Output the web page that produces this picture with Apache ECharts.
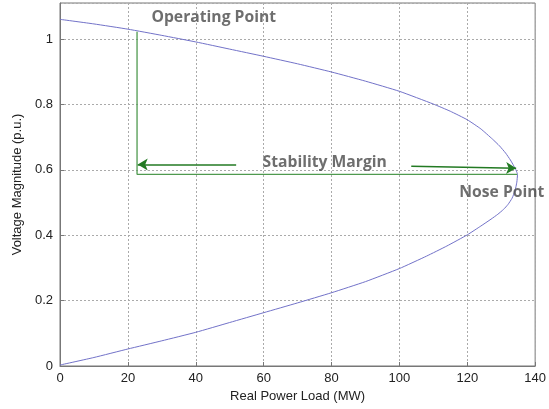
<!DOCTYPE html>
<html>
<head>
<meta charset="utf-8">
<script src="https://cdn.jsdelivr.net/npm/echarts@6/dist/echarts.min.js"></script>
<style>html,body{margin:0;padding:0;background:#fff;}#c{width:549px;height:409px;}</style>
</head>
<body>
<div id="c"></div>
<script>
// P-V curve, upper (stable) branch: real power (MW) and voltage (p.u.)
const powerUpper   = [0, 10, 20, 30, 40, 50, 60, 70, 80, 90, 100, 110, 115, 120, 124, 127.4, 129.5, 131.3, 132.7, 133.7, 134.4, 134.8];
const voltageUpper = [1.06, 1.046, 1.03, 1.011, 0.991, 0.969, 0.947, 0.924, 0.899, 0.871, 0.840, 0.801, 0.779, 0.753, 0.725, 0.694, 0.673, 0.651, 0.63, 0.612, 0.598, 0.586];
// lower (unstable) branch
const powerLower   = [134.6, 134.1, 133.2, 132, 130.7, 129, 127, 124, 120, 114, 108, 100, 90, 80, 70, 60, 50, 40, 30, 20, 10, 0];
const voltageLower = [0.562, 0.537, 0.513, 0.494, 0.479, 0.464, 0.449, 0.428, 0.401, 0.367, 0.336, 0.298, 0.258, 0.224, 0.193, 0.163, 0.133, 0.103, 0.077, 0.052, 0.026, 0.003];
// stability margin bracket (operating point -> nose point)
const bracketPower   = [22.7, 22.7, 134.7];
const bracketVoltage = [1.022, 0.586, 0.586];
// arrows: [fromP, fromV, toP, toV]
const arrowLeft  = [51.9, 0.616, 22.9, 0.616];
const arrowRight = [103.5, 0.611, 134.4, 0.605];
// annotation texts and anchor points (data coords)
const noteTexts   = ['Operating Point', 'Stability Margin', 'Nose Point'];
const notePower   = [45.3, 78.0, 130.2];
const noteVoltage = [1.065, 0.621, 0.53];
// axis ticks
const xTicks = [0, 20, 40, 60, 80, 100, 120, 140];
const yTicks = [0, 0.2, 0.4, 0.6, 0.8, 1];

const curve = powerUpper.map((p, i) => [p, voltageUpper[i]])
  .concat(powerLower.map((p, i) => [p, voltageLower[i]]));
const bracket = bracketPower.map((p, i) => [p, bracketVoltage[i]]);
const notes = noteTexts.map((t, i) => ({name: t, value: [notePower[i], noteVoltage[i]]}));

const chart = echarts.init(document.getElementById('c'), null, {renderer: 'canvas'});
const axisFont = {fontFamily: 'Liberation Sans, Arial, sans-serif', fontSize: 13, color: '#222'};
chart.setOption({
  backgroundColor: '#fff',
  animation: false,
  grid: {left: 60, right: 9, top: 3, bottom: 43, show: true, borderColor: '#777', borderWidth: 1, backgroundColor: 'transparent'},
  xAxis: {
    type: 'value', min: xTicks[0], max: xTicks[xTicks.length - 1], interval: 20,
    name: 'Real Power Load (MW)', nameLocation: 'middle', nameGap: 24,
    nameTextStyle: axisFont,
    axisLine: {show: true, onZero: false, lineStyle: {color: '#777'}},
    axisTick: {show: true, inside: true, length: 4, lineStyle: {color: '#777'}},
    axisLabel: Object.assign({margin: 6}, axisFont),
    splitLine: {show: true, lineStyle: {color: '#aaa', type: [2, 2], width: 1}}
  },
  yAxis: {
    type: 'value', min: 0, max: 1.11, interval: 0.2,
    name: 'Voltage Magnitude (p.u.)', nameLocation: 'middle', nameGap: 36,
    nameTextStyle: axisFont,
    axisLine: {show: true, onZero: false, lineStyle: {color: '#777'}},
    axisTick: {show: true, inside: true, length: 4, lineStyle: {color: '#777'}},
    axisLabel: Object.assign({margin: 7, showMaxLabel: false,
      formatter: v => yTicks.some(t => Math.abs(t - v) < 1e-9) ? String(+v.toFixed(1)) : ''}, axisFont),
    splitLine: {show: true, lineStyle: {color: '#aaa', type: [2, 2], width: 1}}
  },
  series: [
    {
      type: 'line', data: curve, showSymbol: false, smooth: 0.15,
      lineStyle: {color: '#7272c8', width: 1}, silent: true, z: 3
    },
    {
      type: 'line', data: bracket, showSymbol: false,
      lineStyle: {color: '#4f9a4f', width: 1.3}, silent: true, z: 4,
      markLine: {
        silent: true, symbol: ['none', 'arrow'], symbolSize: [9, 10],
        label: {show: false},
        lineStyle: {color: '#237a23', width: 1.5, type: 'solid'},
        data: [
          [{coord: [arrowLeft[0], arrowLeft[1]]}, {coord: [arrowLeft[2], arrowLeft[3]]}],
          [{coord: [arrowRight[0], arrowRight[1]]}, {coord: [arrowRight[2], arrowRight[3]]}]
        ]
      }
    },
    {
      type: 'scatter', data: notes, symbolSize: 0, silent: true, z: 5,
      label: {
        show: true, position: 'inside', formatter: p => p.name,
        fontFamily: 'Open Sans, DejaVu Sans, sans-serif', fontWeight: 'bold', fontSize: 15.7, color: '#4a4a4a'
      }
    }
  ]
});
</script>
</body>
</html>
